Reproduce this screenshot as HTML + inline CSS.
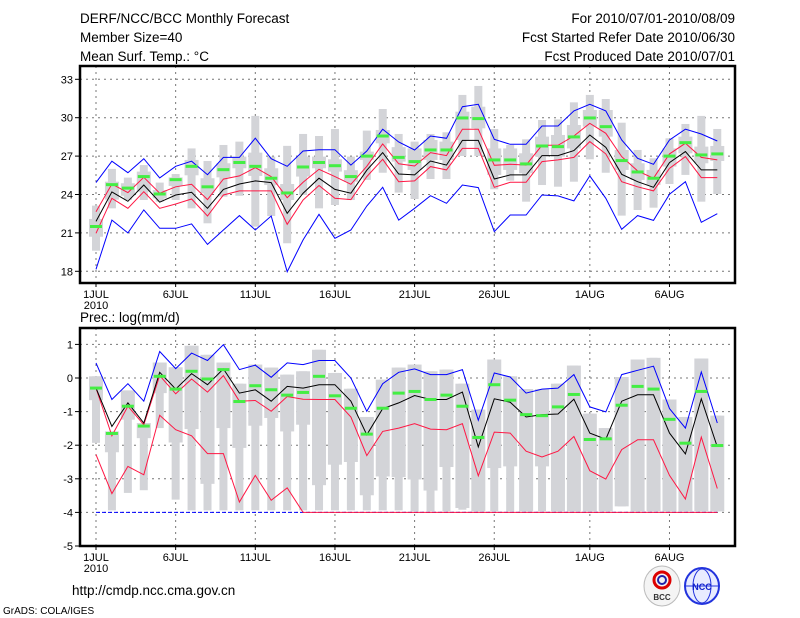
<!DOCTYPE html>
<html><head><meta charset="utf-8"><style>
html,body{margin:0;padding:0;background:#fff;}
svg{display:block;font-family:"Liberation Sans",sans-serif;}
</style></head><body>
<svg id="chart" width="800" height="618" xmlns="http://www.w3.org/2000/svg">
<text x="80" y="23" font-size="13.5">DERF/NCC/BCC Monthly Forecast</text>
<text x="80" y="42" font-size="13.5">Member Size=40</text>
<text x="80" y="61" font-size="13.5">Mean Surf. Temp.: °C</text>
<text x="735" y="23" font-size="13.5" text-anchor="end">For 2010/07/01-2010/08/09</text>
<text x="735" y="42" font-size="13.5" text-anchor="end">Fcst Started Refer Date 2010/06/30</text>
<text x="735" y="61" font-size="13.5" text-anchor="end">Fcst Produced Date 2010/07/01</text>
<text x="80" y="322" font-size="13.5">Prec.: log(mm/d)</text>
<text x="72" y="595" font-size="13.5">http://cmdp.ncc.cma.gov.cn</text>
<text x="3" y="614" font-size="10">GrADS: COLA/IGES</text>
<g>
<ellipse cx="662" cy="586" rx="18" ry="20" fill="#f4f4f4" stroke="#bbb"/>
<circle cx="662" cy="580" r="8" fill="none" stroke="#d00" stroke-width="3"/>
<circle cx="662" cy="580" r="4" fill="none" stroke="#22a" stroke-width="2"/>
<text x="662" y="600" font-size="8" text-anchor="middle" font-weight="bold" fill="#333">BCC</text>
</g>
<g>
<ellipse cx="702" cy="586" rx="17" ry="18" fill="#e8ecff" stroke="#2233dd" stroke-width="2"/>
<ellipse cx="702" cy="586" rx="9" ry="17" fill="none" stroke="#2233dd"/>
<line x1="686" y1="586" x2="718" y2="586" stroke="#2233dd"/>
<text x="702" y="590" font-size="9" text-anchor="middle" font-weight="bold" fill="#1122cc">NCC</text>
</g>
<g id="top"></g><g id="bot"></g>
</svg>
<script>
// ---------- data ----------
const days = 40;
const dateLabels = ["1JUL","6JUL","11JUL","16JUL","21JUL","26JUL","1AUG","6AUG"];
const dateLabelDays = [0,5,10,15,20,25,31,36];
const tempTicks = [18,21,24,27,30,33];
const precTicks = [-5,-4,-3,-2,-1,0,1];

const tMax = [24.93,26.6,25.7,26.8,25.3,26.2,26.6,25.55,26.9,26.9,28.4,26.8,26.2,27.4,27.5,27.5,26.3,27.4,29.1,28.1,27.48,28.57,28.39,30.86,31.05,28.31,27.92,27.92,29.35,29.35,30.53,31.05,30.53,28.26,26.83,26.36,28.26,29.1,28.73,28.18];
const tUp = [22.66,24.82,24.15,25.34,24.1,24.6,24.8,23.6,25.2,25.45,26.1,25.4,23.75,24.95,25.97,25.4,24.8,26.2,27.95,26.4,26.23,27.27,27.04,29.1,29.1,26.28,26.36,26.3,27.84,27.84,28.57,29.56,28.78,26.96,25.84,25.27,27.17,28.0,26.9,26.7];
const tMean = [21.9,24.2,23.47,24.74,23.4,23.96,24.17,22.92,24.4,24.82,25.06,24.93,22.53,24.1,25.27,24.4,24.1,25.9,27.27,25.6,25.53,26.62,26.3,28.23,28.23,25.21,25.53,25.53,27.04,27.04,27.43,28.65,27.69,25.58,25.0,24.56,26.49,27.35,25.92,25.92];
const tLo = [20.97,23.7,22.92,24.22,22.92,23.26,23.65,22.32,23.96,24.28,24.28,24.28,21.67,23.57,24.7,23.7,23.6,25.4,26.75,25.0,25.06,26.18,25.92,27.6,27.6,24.56,24.95,24.95,26.57,26.7,26.9,28.13,27.17,25.0,24.6,24.28,26.05,26.96,25.32,25.32];
const tMin = [18.16,22.0,21.0,22.8,21.36,21.36,21.7,20.1,21.23,22.35,21.23,22.32,17.97,20.45,22.45,20.58,21.23,23.1,24.56,22.0,22.92,23.91,23.31,24.74,24.54,21.1,22.4,22.4,23.96,23.89,23.5,25.45,23.7,21.28,22.35,21.98,24.02,25.0,21.83,22.5];
const tObs = [21.5,24.77,24.5,25.4,24.04,25.16,26.2,24.6,25.94,26.5,26.2,25.27,24.12,26.15,26.5,26.25,25.4,27.0,28.57,26.9,26.57,27.48,27.48,29.98,29.93,26.7,26.7,26.39,27.79,27.74,28.5,29.98,29.3,26.65,25.76,25.27,27.0,28.05,27.09,27.17];
const tRangeHi = [23.13,26.0,25.32,26.3,24.93,25.6,27.6,26.62,27.87,28.13,30.14,26.96,27.8,28.73,28.57,29.12,26.96,28.99,30.68,28.73,28.13,28.73,28.86,31.78,32.48,29.12,27.87,28.31,29.82,29.87,31.2,31.78,31.46,29.61,27.48,26.83,28.39,29.51,30.14,29.12];
const tRangeLo = [19.61,22.92,23.57,23.57,23.44,23.57,22.92,21.75,23.83,23.9,21.49,22.32,20.19,23.96,22.92,23.18,23.57,25.14,25.7,24.15,23.65,25.21,25.21,27.01,27.01,24.41,25.08,23.44,24.74,24.61,25.0,26.75,25.7,22.35,22.79,22.97,24.82,25.53,23.44,24.04];
const tBoxHi = [22.09,25.0,24.88,25.79,24.35,25.34,26.7,25.27,26.44,26.96,27.27,26.05,24.82,26.96,26.96,26.75,25.9,27.35,29.04,27.7,27.6,28.26,28.13,30.47,30.86,27.6,27.6,27.22,28.52,28.65,29.43,30.6,30.6,27.48,26.44,25.92,27.6,28.52,27.74,27.79];
const tBoxLo = [20.7,23.6,23.9,24.22,23.7,24.67,25.5,24.1,25.34,26.05,25.45,24.74,23.57,25.4,26.05,25.79,25.0,26.7,28.0,26.57,25.92,26.7,26.7,28.26,29.17,25.53,25.92,25.66,26.96,26.96,27.6,29.3,28.52,25.92,25.14,24.74,26.18,27.22,26.44,26.62];

const pMax = [0.45,-0.64,-0.17,-0.69,0.79,0.28,0.74,0.52,0.99,0.25,0.38,0.02,0.45,0.40,0.52,0.52,0.0,-0.99,-0.17,0.17,0.27,0.10,0.10,0.25,-1.26,0.15,0.03,-0.45,-0.33,-0.30,0.10,-0.86,-1.01,0.10,0.23,0.35,-0.91,-1.49,0.18,-1.34];
const pMean = [-0.30,-1.44,-0.74,-1.34,0.17,-0.33,0.13,-0.2,0.27,-0.45,-0.35,-0.69,-0.25,-0.30,-0.2,-0.2,-0.69,-1.69,-0.91,-0.74,-0.52,-0.64,-0.64,-0.42,-2.05,-0.62,-0.72,-1.16,-1.09,-1.07,-0.63,-1.64,-1.82,-0.69,-0.50,-0.50,-1.64,-2.26,-0.62,-2.05];
const pUp = [-0.30,-1.72,-0.84,-1.39,0.07,-0.47,-0.03,-0.42,0.07,-0.69,-0.67,-0.99,-0.55,-0.63,-0.64,-0.64,-1.16,-2.31,-1.59,-1.49,-1.36,-1.52,-1.54,-1.36,-2.91,-1.61,-1.64,-2.18,-2.35,-2.18,-1.74,-2.76,-3.01,-2.13,-1.84,-1.84,-2.9,-3.6,-1.76,-3.29];
const pLo = [-2.28,-3.44,-2.63,-2.88,-1.11,-1.54,-1.72,-2.25,-2.25,-3.69,-2.9,-3.64,-3.27,-4,-4,-4,-4,-4,-4,-4,-4,-4,-4,-4,-4,-4,-4,-4,-4,-4,-4,-4,-4,-4,-4,-4,-4,-4,-4,-4];
const pMin = [-4,-4,-4,-4,-4,-4,-4,-4,-4,-4,-4,-4,-4,-4,-4,-4,-4,-4,-4,-4,-4,-4,-4,-4,-4,-4,-4,-4,-4,-4,-4,-4,-4,-4,-4,-4,-4,-4,-4,-4];
const pObs = [-0.30,-1.65,-0.84,-1.43,0.05,-0.33,0.20,-0.03,0.25,-0.70,-0.23,-0.35,-0.51,-0.43,0.05,-0.53,-0.90,-1.67,-0.90,-0.45,-0.40,-0.64,-0.51,-0.84,-1.77,-0.20,-0.66,-1.09,-1.12,-0.86,-0.49,-1.83,-1.81,-0.81,-0.25,-0.33,-1.23,-1.94,-0.40,-2.01];
const pRangeHi = [0.05,-1.59,-0.37,-1.34,0.46,0.32,0.96,0.69,0.46,-0.17,0.40,0.31,0.10,0.20,0.84,0.15,-0.32,-1.16,-0.05,0.31,0.40,0.20,0.25,-0.17,-0.94,0.55,0.05,-0.33,-0.33,-0.17,0.37,-1.06,-1.49,0.03,0.55,0.60,-0.64,-1.16,0.58,-1.12];
const pRangeLo = [-1.93,-3.94,-3.42,-3.34,-1.49,-3.62,-3.94,-3.94,-3.94,-3.94,-3.94,-3.94,-3.94,-3.94,-3.94,-3.94,-3.94,-3.94,-3.94,-3.94,-3.97,-3.97,-3.97,-3.92,-3.97,-3.97,-3.97,-3.97,-3.97,-3.97,-3.97,-3.97,-3.97,-3.82,-3.97,-3.97,-3.97,-3.97,-3.97,-3.97];
const pBoxHi = pRangeHi;
const pBoxLo = [-0.66,-2.21,-1.24,-1.79,-0.45,-1.92,-1.52,-3.15,-1.49,-2.08,-1.42,-1.19,-1.59,-1.39,-3.19,-2.58,-2.5,-3.49,-2.93,-2.95,-3.02,-3.35,-2.65,-3.87,-3.97,-2.68,-2.63,-3.97,-2.63,-3.97,-3.97,-3.97,-3.97,-3.82,-3.97,-3.97,-3.97,-3.97,-3.97,-3.97];

// ---------- drawing ----------
const NS = "http://www.w3.org/2000/svg";
const X0 = 96, DX = 15.93;
const FL = 80, FR = 735;
function xs(d){ return X0 + d*DX; }
function mk(parent, tag, attrs){ const e=document.createElementNS(NS,tag); for(const k in attrs) e.setAttribute(k,attrs[k]); parent.appendChild(e); return e; }

function panel(g, cfg){
  const {top, bot, vmin, vmax, ticks, name} = cfg;
  const ys = v => bot - (v - vmin)/(vmax - vmin)*(bot - top);
  ticks.forEach(t => {
    if (t===vmin) return;
    const l = mk(g,'line',{x1:FL,x2:FR,y1:ys(t),y2:ys(t),stroke:'#777','stroke-dasharray':'2,4','stroke-width':1});
    
    
  });
  dateLabelDays.forEach(d => {
    const l = mk(g,'line',{x1:xs(d),x2:xs(d),y1:top,y2:bot,stroke:'#777','stroke-dasharray':'2,4','stroke-width':1});
    
    
  });
  for (let i=0;i<days;i++){
    const r = mk(g,'rect',{x:xs(i)-4,width:8,y:ys(cfg.rHi[i]),height:ys(cfg.rLo[i])-ys(cfg.rHi[i]),fill:'#d3d4d8'});
    
    
    const b = mk(g,'rect',{x:xs(i)-7,width:14,y:ys(cfg.bHi[i]),height:ys(cfg.bLo[i])-ys(cfg.bHi[i]),fill:'#d3d4d8'});
    
    
  }
  const series = [[cfg.min,'#0000ff','min-line'],[cfg.max,'#0000ff','max-line'],[cfg.up,'#ff1744','upper-line'],[cfg.lo,'#ff1744','lower-line'],[cfg.mean,'#000','mean-line']];
  series.forEach(([arr,col,nm]) => {
    const pts = arr.map((v,i)=>xs(i).toFixed(1)+','+ys(v).toFixed(1)).join(' ');
    const attrs = {points:pts,fill:'none',stroke:col,'stroke-width':1};
    if (cfg.dashLow && nm==='min-line') attrs['stroke-dasharray'] = cfg.dashLow;
    const p = mk(g,'polyline',attrs);
    
    
  });
  for (let i=0;i<days;i++){
    const o = mk(g,'rect',{x:xs(i)-6,width:12,y:ys(cfg.obs[i])-1.5,height:3,fill:'#44ee44'});
    
    
  }
  const f = mk(g,'rect',{x:FL,y:top,width:FR-FL,height:bot-top,fill:'none',stroke:'#000','stroke-width':2.5});
  
  
  ticks.forEach(t => {
    mk(g,'line',{x1:FL-5,x2:FL,y1:ys(t),y2:ys(t),stroke:'#000'});
    const tx = mk(g,'text',{x:FL-7,y:ys(t)+4,'font-size':11,'text-anchor':'end'});
    tx.textContent = t;
    
    
  });
  dateLabelDays.forEach((d,k) => {
    mk(g,'line',{x1:xs(d),x2:xs(d),y1:bot,y2:bot+4,stroke:'#000'});
    const tx = mk(g,'text',{x:xs(d),y:bot+15,'font-size':11,'text-anchor':'middle'});
    tx.textContent = dateLabels[k];
    
    
  });
  const yr = mk(g,'text',{x:xs(0),y:bot+26,'font-size':11,'text-anchor':'middle'});
  yr.textContent = '2010';
  
  
}

panel(document.getElementById('top'), {name:'temp',top:66,bot:283,vmin:18-(283-271.3)/12.8,vmax:18+(271.3-66)/12.8,ticks:tempTicks.slice(),
  rHi:tRangeHi,rLo:tRangeLo,bHi:tBoxHi,bLo:tBoxLo,max:tMax,up:tUp,mean:tMean,lo:tLo,min:tMin,obs:tObs});
panel(document.getElementById('bot'), {name:'prec',top:328,bot:546,vmin:-5,vmax:-5+(546-328)/33.6,ticks:precTicks,dashLow:'4,2',
  rHi:pRangeHi,rLo:pRangeLo,bHi:pBoxHi,bLo:pBoxLo,max:pMax,up:pUp,mean:pMean,lo:pLo,min:pMin,obs:pObs});
</script>
</body></html>
